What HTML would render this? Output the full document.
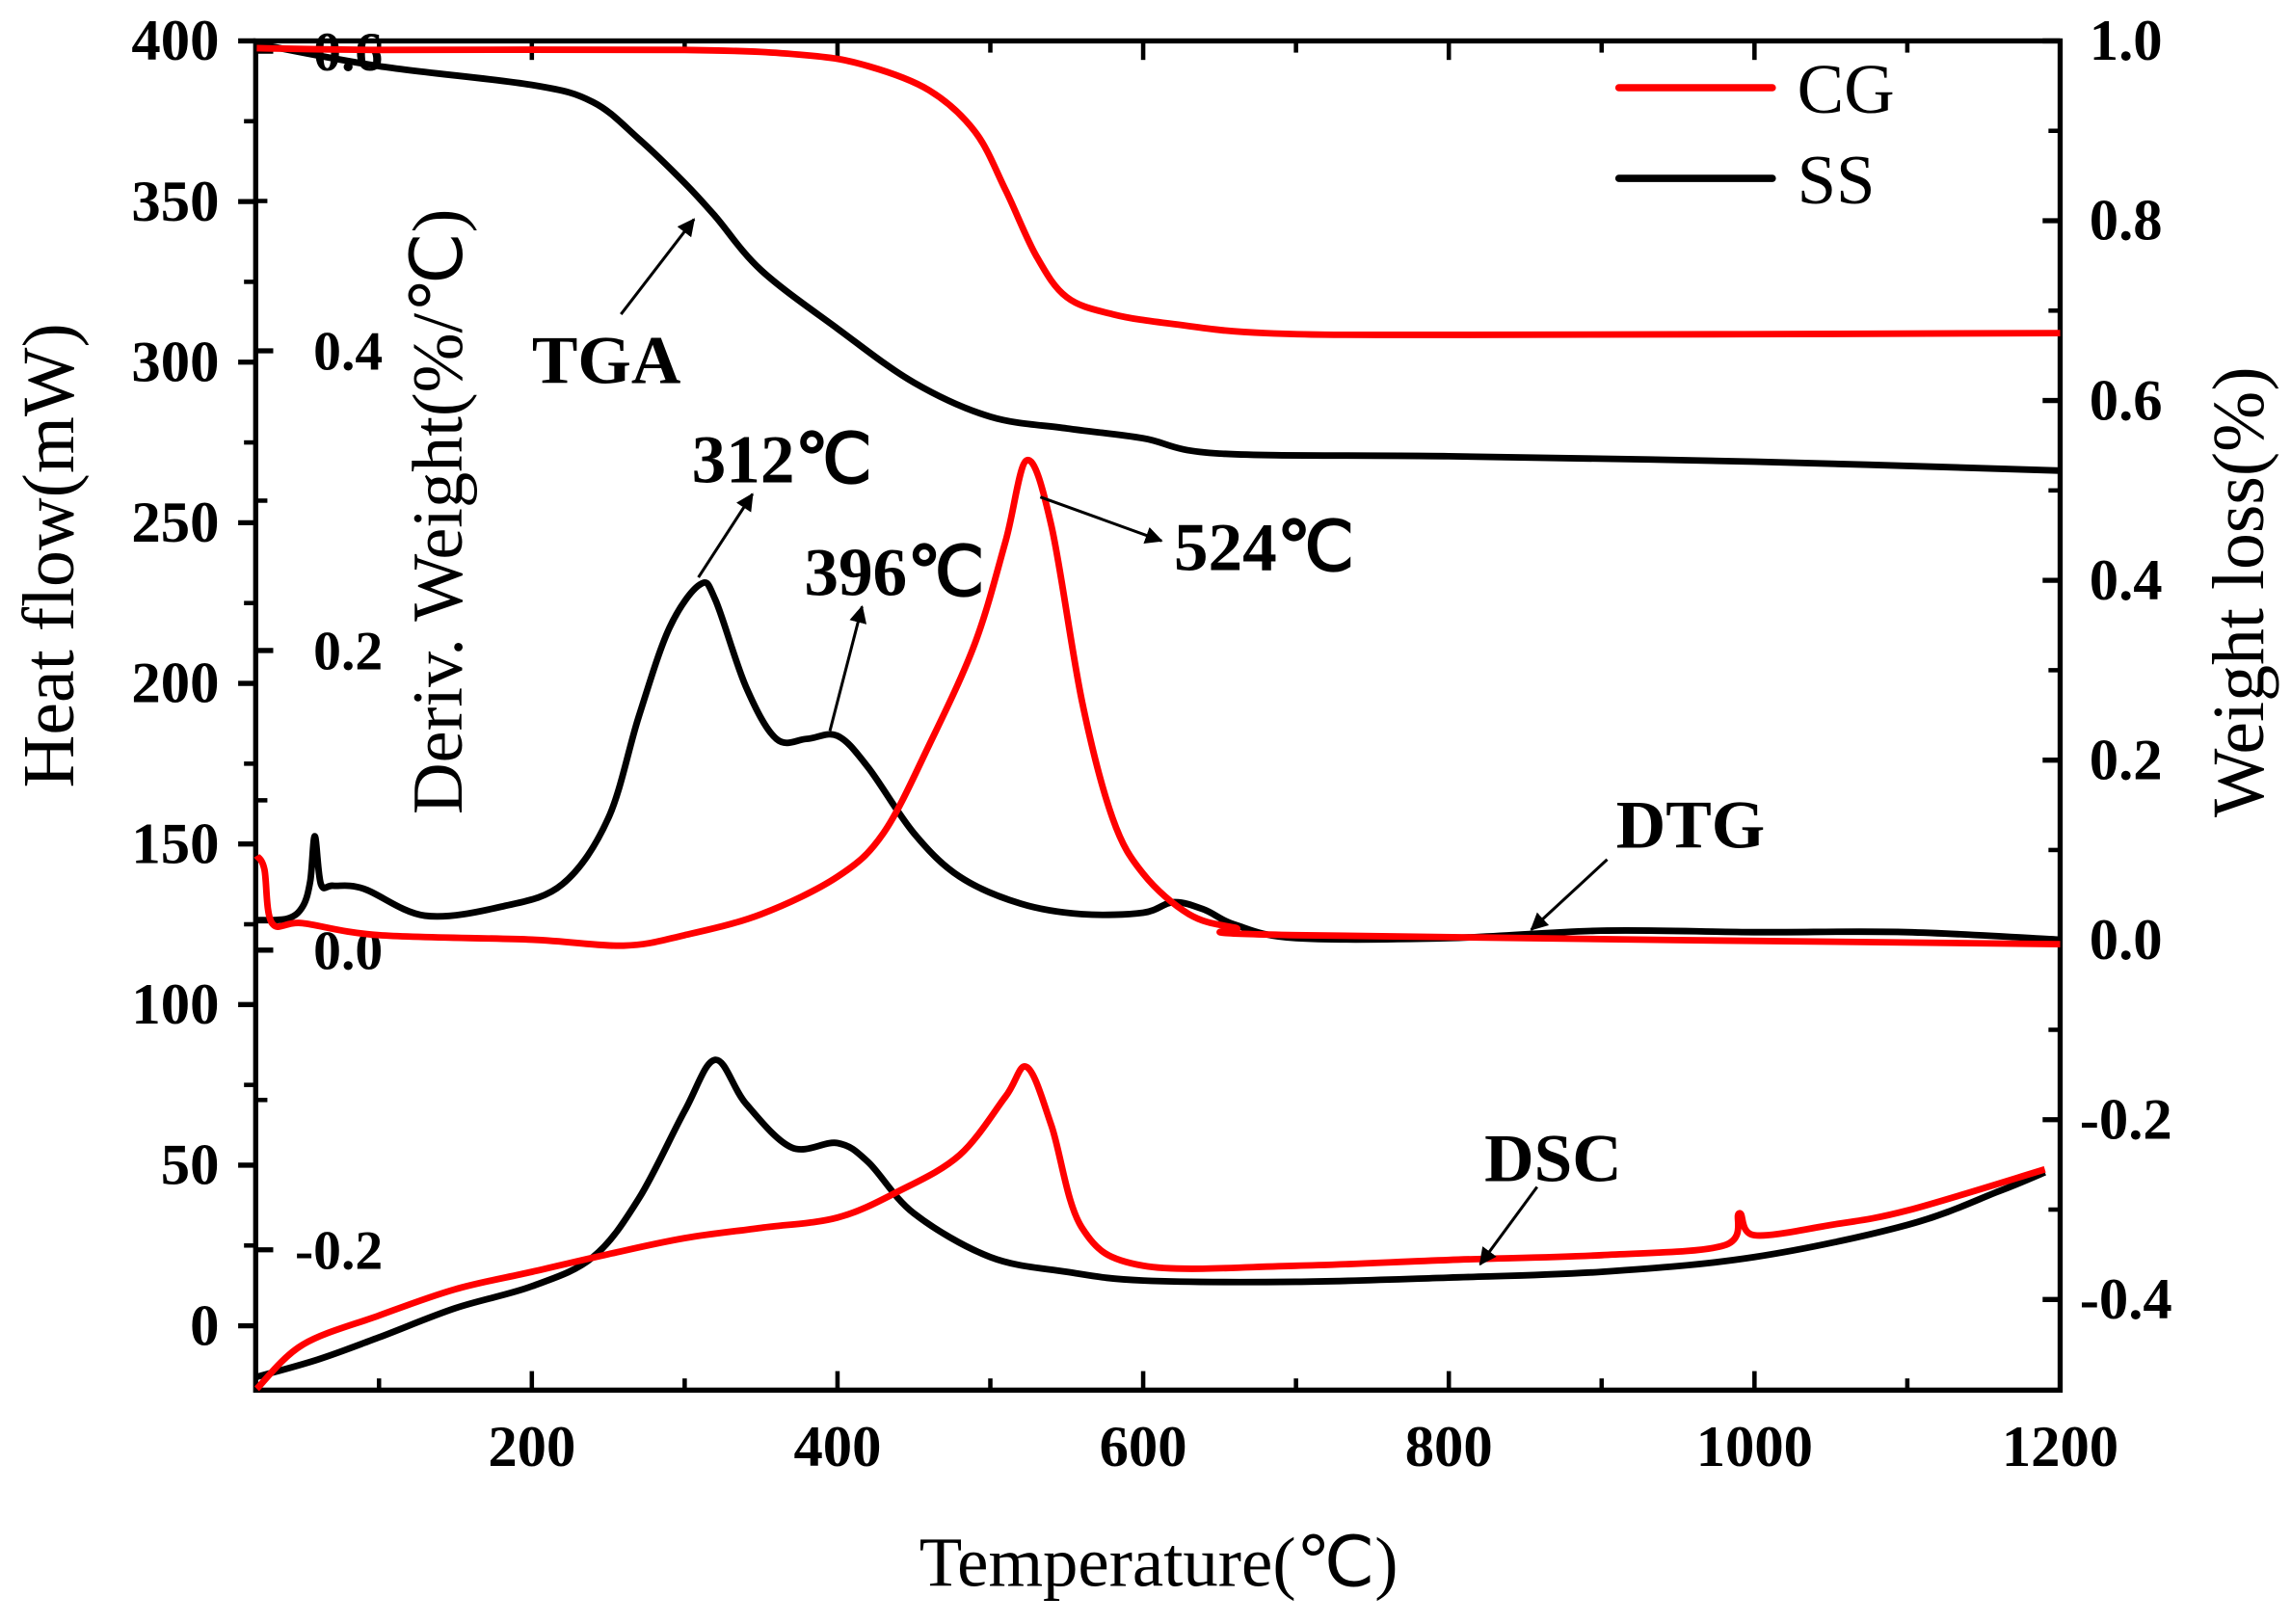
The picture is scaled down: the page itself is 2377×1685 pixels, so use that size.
<!DOCTYPE html>
<html><head><meta charset="utf-8"><style>
html,body{margin:0;padding:0;background:#fff;}
svg{display:block;}
text{font-family:"Liberation Serif",serif;}
</style></head><body>
<svg id="chart" width="2377" height="1685" viewBox="0 0 1568 1111" preserveAspectRatio="none" xmlns="http://www.w3.org/2000/svg">
<g id="frame"></g>
<g id="series"></g>
<g id="annot"></g>
</svg>
<script>
// x axis
const xTicks=[200,400,600,800,1000,1200];
const xMinor=[100,300,500,700,900,1100];
const hfTicks=[0,50,100,150,200,250,300,350,400];
const wlTicks=[-0.4,-0.2,0.0,0.2,0.4,0.6,0.8,1.0];
const dwTicks=[-0.2,0.0,0.2,0.4,0.6];
// TGA (weight loss axis)
const tgaCGx=[20,100,300,380,420,460,490,510,530,550,580,620,680,800,1200];
const tgaCGy=[0.992,0.990,0.990,0.984,0.972,0.945,0.899,0.834,0.761,0.715,0.696,0.685,0.675,0.673,0.675];
const tgaSSx=[20,100,200,240,270,300,320,350,400,450,500,550,600,650,800,1000,1200];
const tgaSSy=[0.997,0.972,0.951,0.932,0.891,0.842,0.805,0.745,0.680,0.620,0.582,0.569,0.558,0.541,0.538,0.532,0.522];
// DTG (deriv weight axis)
const dtgSSx=[20,40,50,55,58,62,70,90,130,180,220,250,270,290,310,320,340,360,380,400,420,450,480,520,560,600,620,640,660,700,800,900,1000,1100,1200];
const dtgSSy=[0.020,0.021,0.029,0.046,0.076,0.044,0.043,0.041,0.023,0.029,0.044,0.088,0.156,0.215,0.244,0.234,0.176,0.141,0.141,0.143,0.122,0.078,0.049,0.031,0.024,0.025,0.032,0.027,0.017,0.008,0.008,0.013,0.012,0.012,0.007];
const dtgCGx=[20,25,30,50,100,200,260,300,350,400,430,460,490,510,524,540,560,580,600,630,660,700,1200];
const dtgCGy=[0.063,0.054,0.018,0.018,0.010,0.007,0.003,0.010,0.024,0.049,0.078,0.137,0.205,0.273,0.327,0.283,0.166,0.088,0.051,0.024,0.015,0.010,0.004];
// DSC (heat flow axis)
const dscSSx=[20,60,100,150,200,240,270,300,320,340,370,400,420,450,500,550,600,700,800,900,1000,1100,1160,1190];
const dscSSy=[-15.9,-10.5,-3.6,5.5,12.3,21.4,39.6,66.9,82.8,69.2,55.5,56.9,51.0,35.0,21.4,16.8,14.1,13.7,15.0,16.8,21.4,31.4,41.9,47.8];
const dscCGx=[20,50,100,150,200,250,300,350,400,440,480,510,524,540,560,600,700,800,900,980,990,1000,1050,1100,1190];
const dscCGy=[-19.6,-5.9,3.2,11.4,16.8,22.3,27.3,30.5,33.7,41.9,53.2,71.4,80.5,62.3,30.5,18.7,18.7,20.5,22.0,25.0,35.0,28.2,31.4,35.9,48.7];

const L=175,R=1410,T=28,B=951;
const sx=v=>364+(v-200)*1.046;
const sHF=v=>907-v*2.1975;
const sWL=v=>643-v*615;
const sDW=v=>650-v*1025;
const NS="http://www.w3.org/2000/svg";
function mk(tag,attrs,parent,txt){const e=document.createElementNS(NS,tag);for(const k in attrs)e.setAttribute(k,attrs[k]);if(txt!==undefined)e.textContent=txt;parent.appendChild(e);return e;}
const frame=document.getElementById('frame'),ser=document.getElementById('series'),an=document.getElementById('annot');

let box=mk('rect',{x:L,y:T,width:R-L,height:B-T,fill:'none',stroke:'#000','stroke-width':3.5},frame);


xTicks.forEach(v=>{const x=sx(v);
 mk('line',{x1:x,x2:x,y1:B,y2:B-13,stroke:'#000','stroke-width':3},frame);
 mk('line',{x1:x,x2:x,y1:T,y2:T+13,stroke:'#000','stroke-width':3},frame);
 const t=mk('text',{x:x,y:B+52,'font-size':40,'font-weight':'bold','text-anchor':'middle'},frame,v);
 
 });
xMinor.forEach(v=>{const x=sx(v);
 mk('line',{x1:x,x2:x,y1:B,y2:B-8,stroke:'#000','stroke-width':3},frame);
 mk('line',{x1:x,x2:x,y1:T,y2:T+8,stroke:'#000','stroke-width':3},frame);});
hfTicks.forEach(v=>{const y=sHF(v);
 mk('line',{x1:L-12,x2:L,y1:y,y2:y,stroke:'#000','stroke-width':3.5},frame);
 const t=mk('text',{x:L-25,y:y+13,'font-size':40,'font-weight':'bold','text-anchor':'end'},frame,v);
 
 
 if(v<400){const y2=sHF(v+25);mk('line',{x1:L-8,x2:L,y1:y2,y2:y2,stroke:'#000','stroke-width':3},frame);}});
wlTicks.forEach(v=>{const y=sWL(v);
 mk('line',{x1:R-12,x2:R,y1:y,y2:y,stroke:'#000','stroke-width':3.5},frame);
 const t=mk('text',{x:R+45,y:y+13,'font-size':40,'font-weight':'bold','text-anchor':'middle'},frame,v.toFixed(1));
 
 
 if(v<1.0){const y2=sWL(v+0.1);mk('line',{x1:R-8,x2:R,y1:y2,y2:y2,stroke:'#000','stroke-width':3},frame);}});
dwTicks.forEach(v=>{const y=sDW(v);
 mk('line',{x1:L,x2:L+12,y1:y,y2:y,stroke:'#000','stroke-width':3.5},frame);
 const t=mk('text',{x:262,y:y+13,'font-size':38,'font-weight':'bold','text-anchor':'end'},frame,v.toFixed(1));
 
 
 if(v<0.6){const y2=sDW(v+0.1);mk('line',{x1:L,x2:L+8,y1:y2,y2:y2,stroke:'#000','stroke-width':3},frame);}});

let t1=mk('text',{x:793,y:1085,'font-size':48,'text-anchor':'middle'},frame,'Temperature(℃)');

let t2=mk('text',{x:0,y:0,'font-size':50,'text-anchor':'middle',transform:'translate(50,380) rotate(-90)'},frame,'Heat flow(mW)');

let t3=mk('text',{x:0,y:0,'font-size':49,'text-anchor':'middle',transform:'translate(316,350) rotate(-90)'},frame,'Deriv. Weight(%/℃)');

let t4=mk('text',{x:0,y:0,'font-size':50,'text-anchor':'middle',transform:'translate(1549,405) rotate(-90)'},frame,'Weight loss(%)');


function pathFor(xs,ys,sy){const P=xs.map((x,i)=>[sx(x),sy(ys[i])]);let d='M'+P[0][0]+','+P[0][1];
 for(let i=0;i<P.length-1;i++){const p0=P[Math.max(0,i-1)],p1=P[i],p2=P[i+1],p3=P[Math.min(P.length-1,i+2)];
  const c1=[p1[0]+(p2[0]-p0[0])/6,p1[1]+(p2[1]-p0[1])/6],c2=[p2[0]-(p3[0]-p1[0])/6,p2[1]-(p3[1]-p1[1])/6];
  d+=' C'+c1[0]+','+c1[1]+' '+c2[0]+','+c2[1]+' '+p2[0]+','+p2[1];}return d;}
function line(xs,ys,sy,col,name){const p=mk('path',{d:pathFor(xs,ys,sy),fill:'none',stroke:col,'stroke-width':4.5,'stroke-linejoin':'round'},ser);
 
 }
line(tgaSSx,tgaSSy,sWL,'#000','tga-ss-line');
line(dtgSSx,dtgSSy,sDW,'#000','dtg-ss-line');
line(dscSSx,dscSSy,sHF,'#000','dsc-ss-line');
line(tgaCGx,tgaCGy,sWL,'#ff0000','tga-cg-line');
line(dtgCGx,dtgCGy,sDW,'#ff0000','dtg-cg-line');
line(dscCGx,dscCGy,sHF,'#ff0000','dsc-cg-line');

// legend
[['CG','#ff0000',60],['SS','#000',122]].forEach(([n,c,y])=>{
 const l=mk('line',{x1:1108,x2:1213,y1:y,y2:y,stroke:c,'stroke-width':5,'stroke-linecap':'round'},an);
 
 const t=mk('text',{x:1230,y:y+17,'font-size':48},an,n);
 });

// annotations
mk('defs',{},an).innerHTML='<marker id="ah" markerWidth="12" markerHeight="12" refX="11" refY="6" orient="auto" markerUnits="userSpaceOnUse"><path d="M0,0 L12,6 L0,12 z" fill="#000"/></marker>';
[['TGA',415,262,[425,215,475,150]],['312℃',535,330,[478,395,515,338]],['396℃',612,407,[568,500,590,415]],['524℃',865,390,[712,340,795,370]],['DTG',1157,580,[1100,588,1048,636]],['DSC',1063,808,[1052,812,1013,865]]].forEach(([s,x,y,a])=>{
 const t=mk('text',{x:x,y:y,'font-size':47,'font-weight':'bold','text-anchor':'middle'},an,s);
 
 const l=mk('line',{x1:a[0],y1:a[1],x2:a[2],y2:a[3],stroke:'#000','stroke-width':2,'marker-end':'url(#ah)'},an);
 });
</script>
</body></html>
